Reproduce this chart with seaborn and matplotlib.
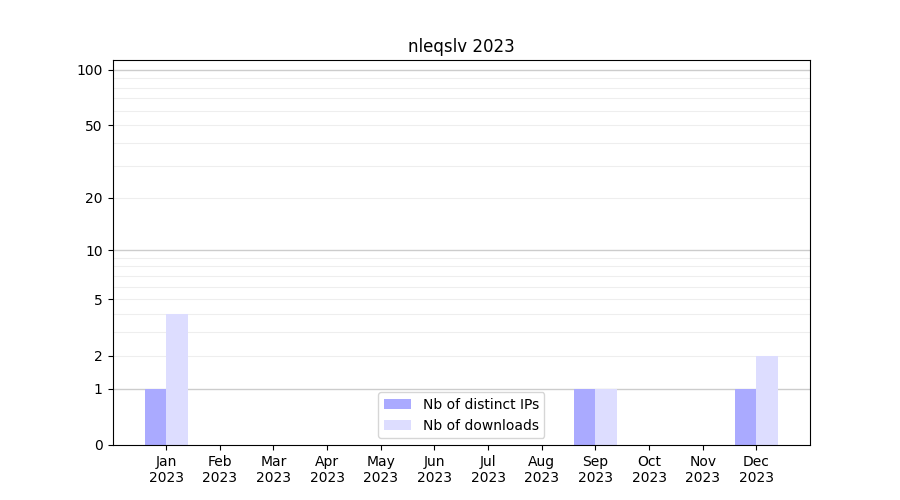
import matplotlib
matplotlib.use("Agg")
import matplotlib.pyplot as plt
import numpy as np
import pandas as pd
import seaborn as sns

months = ["Jan", "Feb", "Mar", "Apr", "May", "Jun",
          "Jul", "Aug", "Sep", "Oct", "Nov", "Dec"]
year = "2023"
distinct_ips = [1, 0, 0, 0, 0, 0, 0, 0, 1, 0, 0, 1]
downloads = [4, 0, 0, 0, 0, 0, 0, 0, 1, 0, 0, 2]
y_ticks = [0, 1, 2, 5, 10, 20, 50, 100]

labels = [f"{m}\n{year}" for m in months]
df = pd.DataFrame({
    "month": labels * 2,
    "value": distinct_ips + downloads,
    "series": ["Nb of distinct IPs"] * 12 + ["Nb of downloads"] * 12,
})


def fwd(x):
    return np.log10(1 + np.clip(x, -0.999, None))


def inv(y):
    return 10 ** y - 1


fig, ax = plt.subplots(figsize=(9, 5), dpi=100)
sns.barplot(data=df, x="month", y="value", hue="series",
            palette=["#aaaaff", "#ddddff"], saturation=1, width=0.8,
            order=labels, ax=ax)

ax.set_yscale("function", functions=(fwd, inv))
ax.set_ylim(0, 113)
ax.set_xlim(-1, 12)
ax.set_yticks(y_ticks)
ax.set_yticklabels([str(t) for t in y_ticks])
ax.yaxis.set_minor_locator(matplotlib.ticker.NullLocator())

# gridlines: darker at decades, light at the steps between
for v in [1, 10, 100]:
    ax.axhline(v, color="#cccccc", lw=1, zorder=0.5)
for v in list(range(2, 10)) + list(range(20, 100, 10)):
    ax.axhline(v, color="#eeeeee", lw=0.8, zorder=0.5)

ax.set_xlabel("")
ax.set_ylabel("")
ax.set_title("nleqslv 2023")
handles, lbls = ax.get_legend_handles_labels()
ax.legend(handles, lbls, loc="lower center")

plt.savefig("out.png", dpi=100)
